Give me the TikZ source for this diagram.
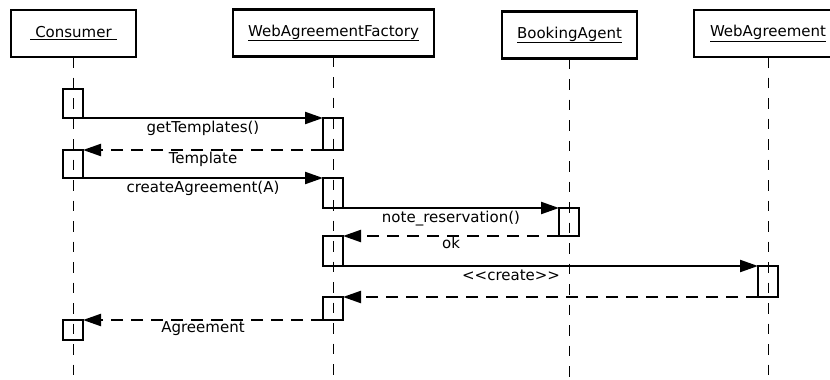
\documentclass[tikz,border=0pt]{standalone}
\usepackage{fontspec}
\setmainfont{DejaVu Sans}
\usetikzlibrary{arrows.meta}
\begin{document}
\begin{tikzpicture}[x=1pt,y=-1pt,
  txt/.style={font=\fontsize{15}{18}\selectfont},
  obj/.style={draw, line width=2.8pt, minimum height=47pt, inner sep=0pt, outer sep=0pt, txt},
  act/.style={draw, line width=2.4pt, minimum width=20pt, inner sep=0pt, outer sep=0pt},
  life/.style={line width=1pt, dash pattern=on 10.5pt off 10pt},
  call/.style={line width=2.2pt, -{Triangle[length=18pt,width=12pt]}},
  reply/.style={call, dash pattern=on 12pt off 8pt},
  msg/.style={anchor=base, txt, yshift=-14pt, inner sep=0pt}
]
\useasboundingbox (0,0) rectangle (830,380);

% objects
\node[obj, minimum width=125pt] (cons) at (73.5,33.5) {\underline{\ Consumer\ }};
\node[obj, minimum width=201pt] (fact) at (333.5,33) {\underline{WebAgreementFactory}};
\node[obj, minimum width=135pt] (agent) at (569.5,35) {\underline{BookingAgent}};
\node[obj, minimum width=148pt] (agr) at (768,33.5) {\underline{WebAgreement}};

% lifelines
\coordinate (consend) at (73,382);
\coordinate (factend) at (333,382);
\coordinate (agentend) at (569,382);
\coordinate (agrend) at (768,382);
\draw[life] (cons.south -| consend) -- (consend);
\draw[life] (fact.south -| factend) -- (factend);
\draw[life] (agent.south -| agentend) -- (agentend);
\draw[life] (agr.south -| agrend) -- (agrend);

% activations
\node[act, minimum height=29pt] (c1) at (73,103.5) {};
\node[act, minimum height=28pt] (c2) at (73,164) {};
\node[act, minimum height=20pt] (c3) at (73,330) {};
\node[act, minimum height=32pt] (f1) at (333,134) {};
\node[act, minimum height=30pt] (f2) at (333,193) {};
\node[act, minimum height=30pt] (f3) at (333,251) {};
\node[act, minimum height=23pt] (f4) at (333,308.5) {};
\node[act, minimum height=28pt] (b1) at (569,222) {};
\node[act, minimum height=31pt] (w1) at (768,281.5) {};

% messages
\draw[call] (c1.south east) -- node[msg, midway] {getTemplates()} (f1.north west);
\draw[reply] (f1.south west) -- node[msg, midway, yshift=1pt] {Template} (c2.north east);
\draw[call] (c2.south east) -- node[msg, midway] {createAgreement(A)} (f2.north west);
\draw[call] (f2.south east) -- node[msg, midway] {note\_reservation()} (b1.north west);
\draw[reply] (b1.south west) -- node[msg, midway, yshift=2pt] {ok} (f3.north east);
\draw[call] (f3.south east) -- node[msg, pos=0.405] {{<}{<}create{>}{>}} (w1.north west);
\draw[reply] (w1.south west) -- (f4.north east);
\draw[reply] (f4.south west) -- node[msg, midway, yshift=2pt] {Agreement} (c3.north east);
\end{tikzpicture}
\end{document}
